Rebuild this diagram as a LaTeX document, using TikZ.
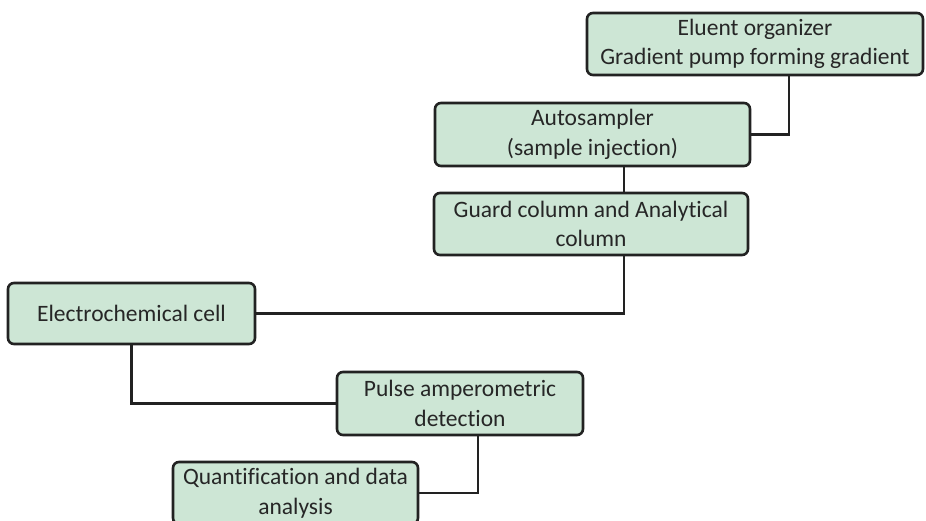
\documentclass[tikz,border=0pt]{standalone}
\usepackage{fontspec}
\setmainfont{Carlito}[Ligatures={NoCommon,NoDiscretionary}]
\definecolor{boxfill}{RGB}{205,230,213}
\definecolor{boxline}{RGB}{34,34,34}
\definecolor{boxtext}{RGB}{38,38,38}
\begin{document}
\begin{tikzpicture}[x=1pt,y=-1pt,
  stage/.style={draw=boxline, fill=boxfill, line width=2.6pt, rounded corners=6pt,
    text=boxtext, align=center, inner sep=0pt,
    font=\fontsize{23.5}{29.5}\selectfont},
  link/.style={draw=boxline, line width=2.4pt}]
  \clip (0,0) rectangle (926,521);
  \fill[white] (0,0) rectangle (926,521);

  % process stages (centre, width, height)
  \node[stage, minimum width=336pt, minimum height=62pt] (eluent) at (755,44)
    {Eluent organizer\\Gradient pump forming gradient};
  \node[stage, minimum width=315pt, minimum height=63pt] (auto) at (592.5,134.5)
    {Autosampler\\(sample injection)};
  \node[stage, minimum width=314pt, minimum height=62pt] (guard) at (591,224)
    {Guard column and Analytical\\column};
  \node[stage, minimum width=247pt, minimum height=61pt] (cell) at (131.5,313.5)
    {Electrochemical cell};
  \node[stage, minimum width=246pt, minimum height=63pt] (pad) at (460,403.5)
    {Pulse amperometric\\detection};
  \node[stage, minimum width=245pt, minimum height=62pt] (quant) at (295.5,493)
    {Quantification and data\\analysis};

  % flow connectors
  \draw[link] ([xshift=34pt]eluent.south) |- (auto.east);
  \draw[link] ([xshift=31.5pt]auto.south) -- ([xshift=33pt]guard.north);
  \draw[link] ([xshift=33pt]guard.south) |- (cell.east);
  \draw[link] (cell.south) |- (pad.west);
  \draw[link] ([xshift=18pt]pad.south) |- (quant.east);
\end{tikzpicture}
\end{document}
